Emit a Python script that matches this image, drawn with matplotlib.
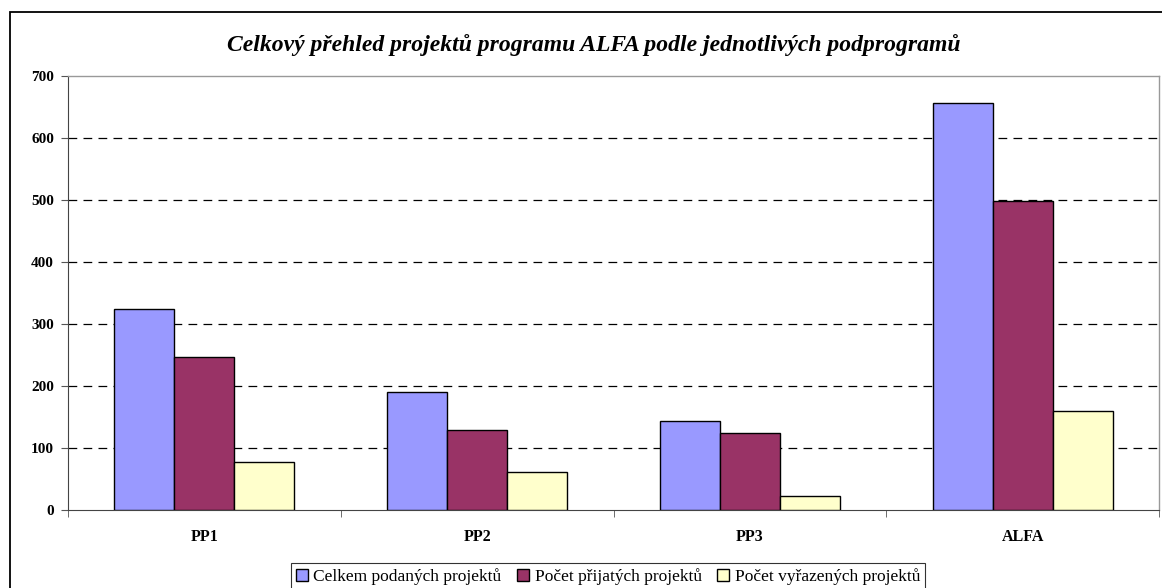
import matplotlib
matplotlib.use("Agg")
import matplotlib.pyplot as plt
import numpy as np
from matplotlib.patches import Rectangle

categories = ["PP1", "PP2", "PP3", "ALFA"]
series_names = ["Celkem podaných projektů", "Počet přijatých projektů", "Počet vyřazených projektů"]
celkem = [324, 190, 144, 657]
prijato = [247, 129, 124, 498]
vyrazeno = [78, 61, 22, 160]
yticks = [0, 100, 200, 300, 400, 500, 600, 700]
colors = ["#9999FF", "#993366", "#FFFFCC"]

plt.rcParams['font.family'] = ['Liberation Serif', 'DejaVu Serif']

W, H = 1162, 588
fig = plt.figure(figsize=(W/100, H/100), dpi=100)

# outer chart frame
fig.patches.append(Rectangle((10/W, -0.05), 1.2, (H-12)/H + 0.05, transform=fig.transFigure,
                             fill=False, edgecolor='black', linewidth=1.3, zorder=0))

left, right, top, bottom = 68, 1159, 76, 510
ax = fig.add_axes([left/W, 1-bottom/H, (right-left)/W, (bottom-top)/H])

x = np.arange(len(categories))
bw = 0.22
for i, (vals, c, name) in enumerate(zip([celkem, prijato, vyrazeno], colors, series_names)):
    ax.bar(x + (i-1)*bw, vals, width=bw, color=c, edgecolor='black', linewidth=1.0,
           label=name, zorder=3)

ax.set_xlim(-0.5, len(categories)-0.5)
ax.set_ylim(0, 700)
ax.set_yticks(yticks)
ax.set_yticklabels([str(v) for v in yticks], fontsize=11, fontweight='bold')
ax.set_xticks(x)
ax.set_xticklabels(categories, fontsize=11.5, fontweight='bold')
ax.tick_params(axis='x', length=0, pad=14)
ax.set_xticks(np.arange(-0.5, len(categories)), minor=True)
ax.tick_params(axis='x', which='minor', length=5, direction='out', color='#555555')
ax.tick_params(axis='y', length=5, direction='out', color='#555555', pad=5)

for v in yticks[1:-1]:
    ax.axhline(v, color='black', linestyle=(0, (7, 5)), linewidth=0.9, zorder=1)

for s in ['top', 'right']:
    ax.spines[s].set_color('#999999')
    ax.spines[s].set_linewidth(1.0)
ax.spines['left'].set_color('#444444')
ax.spines['bottom'].set_color('#444444')

fig.text(594/W, 1-45/H,
         "Celkový přehled projektů programu ALFA podle jednotlivých podprogramů",
         ha='center', va='center', fontsize=17, fontweight='bold', fontstyle='italic')

leg = fig.legend(loc='center', bbox_to_anchor=(608/W, 1-577/H), ncol=3, frameon=True,
                 fancybox=False, edgecolor='black', fontsize=12.5, handlelength=0.7,
                 handleheight=0.7, handletextpad=0.3, columnspacing=0.9,
                 borderpad=0.3, borderaxespad=0)
leg.get_frame().set_linewidth(0.8)

fig.savefig("out.png", dpi=100)
